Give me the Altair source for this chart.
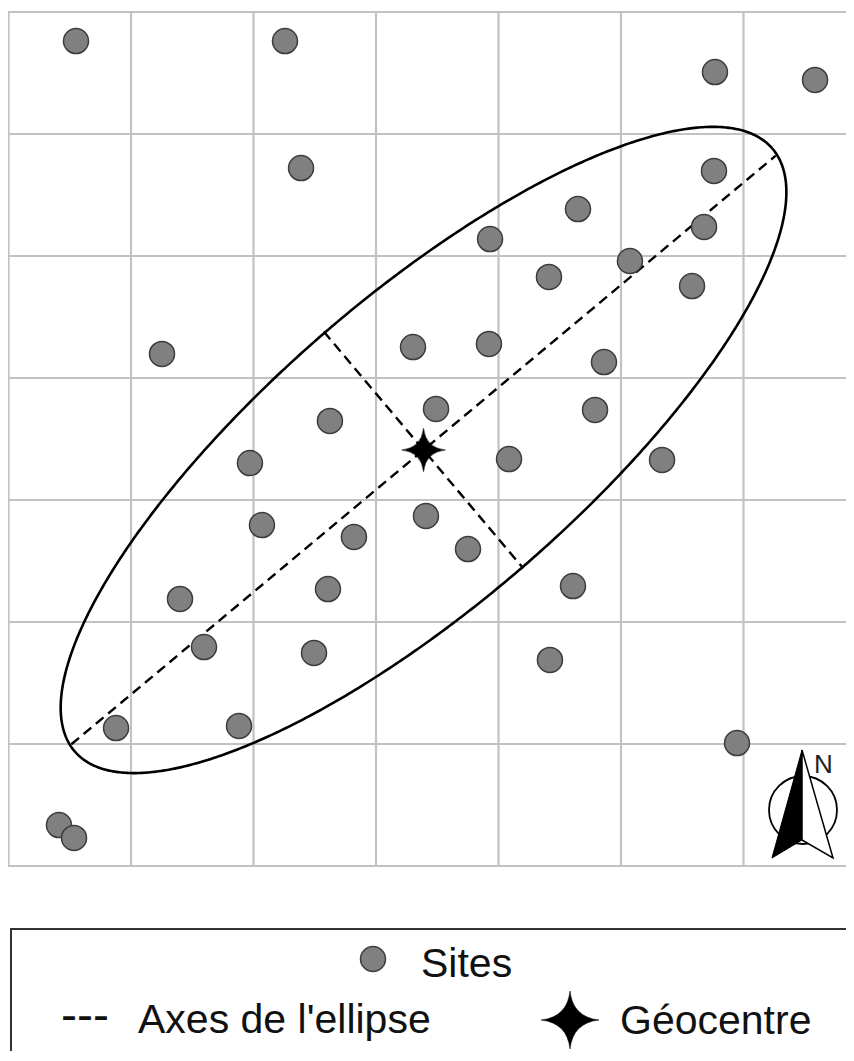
import numpy as np
import pandas as pd
import altair as alt

# ---- data (grid units: one grid cell = 1 unit, origin at the lower-left grid corner)
site_x = [0.551, 2.257, 5.767, 6.584, 2.388, 5.759, 4.649, 3.931, 5.678, 5.073,
          4.412, 5.580, 1.253, 3.302, 3.922, 4.861, 3.490, 4.788, 2.624, 1.971,
          4.086, 5.335, 2.069, 3.408, 2.820, 3.751, 4.608, 2.608, 1.400, 1.596,
          2.494, 4.420, 0.878, 1.882, 5.947, 0.412, 0.535]
site_y = [6.762, 6.762, 6.508, 6.443, 5.721, 5.697, 5.385, 5.139, 5.238, 4.959,
          4.828, 4.754, 4.197, 4.254, 4.279, 4.131, 3.746, 3.738, 3.648, 3.303,
          3.336, 3.328, 2.795, 2.869, 2.697, 2.598, 2.295, 2.270, 2.189, 1.795,
          1.746, 1.689, 1.131, 1.148, 1.008, 0.336, 0.230]

grid_x = [0, 1, 2, 3, 4, 5, 6]
grid_y = [0, 1, 2, 3, 4, 5, 6, 7]
grid_top = 7

# standard deviational ellipse (centre = géocentre)
ell_cx, ell_cy = 3.388, 3.410
ell_a, ell_b = 3.77, 1.255
ell_angle_deg = 41.0
# dashed axes as drawn (half-lengths and orientation)
axis_major, axis_minor = 3.753, 1.267
axis_angle_deg = 40.0

legend_labels = ["Sites", "Axes de l'ellipse", "Géocentre"]

FONT = "Liberation Sans, Arial, Helvetica, sans-serif"
PAD_L = 2
W = 836
H = 1043
X_DOM = [(8 + PAD_L - 8.5) / 122.5, (8 + PAD_L + W - 8.5) / 122.5]
Y_DOM = [(866 - (8 + H)) / 122.0, (866 - 8) / 122.0]
xs = alt.Scale(domain=X_DOM, nice=False, zero=False)
ys = alt.Scale(domain=Y_DOM, nice=False, zero=False)

def X(f):
    return alt.X(f, type="quantitative", scale=xs, axis=None)

def Y(f):
    return alt.Y(f, type="quantitative", scale=ys, axis=None)

GRID_COLOR = "#c2c2c2"

vgrid = alt.Chart(pd.DataFrame({"x": grid_x, "y0": 0, "y1": grid_top})).mark_rule(
    color=GRID_COLOR, strokeWidth=2.2, strokeCap="square"
).encode(x=X("x"), y=Y("y0"), y2="y1")

hgrid = alt.Chart(pd.DataFrame({"y": grid_y, "x0": 0, "x1": X_DOM[1]})).mark_rule(
    color=GRID_COLOR, strokeWidth=2.2, strokeCap="square"
).encode(y=Y("y"), x=X("x0"), x2="x1")

th = np.radians(ell_angle_deg)
t = np.linspace(0, 2 * np.pi, 721)
ex = ell_cx + ell_a * np.cos(t) * np.cos(th) - ell_b * np.sin(t) * np.sin(th)
ey = ell_cy + ell_a * np.cos(t) * np.sin(th) + ell_b * np.sin(t) * np.cos(th)
ell_df = pd.DataFrame({"x": ex, "y": ey, "o": np.arange(len(t))})
ellipse = alt.Chart(ell_df).mark_line(color="black", strokeWidth=2.6).encode(
    x=X("x"), y=Y("y"), order="o:Q"
)

ph = np.radians(axis_angle_deg)
axes_df = pd.DataFrame({
    "x": [ell_cx - axis_major * np.cos(ph), ell_cx - axis_minor * np.sin(ph)],
    "y": [ell_cy - axis_major * np.sin(ph), ell_cy + axis_minor * np.cos(ph)],
    "x2": [ell_cx + axis_major * np.cos(ph), ell_cx + axis_minor * np.sin(ph)],
    "y2": [ell_cy + axis_major * np.sin(ph), ell_cy - axis_minor * np.cos(ph)],
})
axes = alt.Chart(axes_df).mark_rule(color="black", strokeWidth=2.4, strokeDash=[10, 6]).encode(
    x=X("x"), y=Y("y"), x2="x2", y2="y2"
)

sites = alt.Chart(pd.DataFrame({"x": site_x, "y": site_y})).mark_point(
    shape="circle", filled=True, fill="#808080", stroke="#3c3c3c", strokeWidth=1.5,
    size=625, opacity=1
).encode(x=X("x"), y=Y("y"))

STAR = "M0,-1 Q0.1,-0.1 1,0 Q0.1,0.1 0,1 Q-0.1,0.1 -1,0 Q-0.1,-0.1 0,-1 Z"
geo = alt.Chart(pd.DataFrame({"x": [ell_cx], "y": [ell_cy]})).mark_point(
    shape=STAR, filled=True, fill="black", stroke="black", strokeWidth=0.5,
    size=1900, opacity=1
).encode(x=X("x"), y=Y("y"))

one = pd.DataFrame({"k": [0]})

# north arrow (pixel positions inside the plot area)
na_circle = alt.Chart(one).mark_point(
    shape="circle", filled=True, fill="white", stroke="black", strokeWidth=1.8, size=4624, opacity=1
).encode(x=alt.value(793), y=alt.value(802))
na_left = alt.Chart(one).mark_point(
    shape="M0,-1 L-0.556,1 L0,0.667 Z", filled=True, fill="black", stroke="black",
    strokeWidth=1, size=11664, opacity=1
).encode(x=alt.value(792), y=alt.value(796))
na_right = alt.Chart(one).mark_point(
    shape="M0,-1 L0.574,1 L0,0.667 Z", filled=True, fill="white", stroke="black",
    strokeWidth=1.5, size=11664, opacity=1
).encode(x=alt.value(792), y=alt.value(796))
na_text = alt.Chart(one).mark_text(
    text="N", font=FONT, fontSize=26, align="left", baseline="alphabetic", color="#222"
).encode(x=alt.value(804), y=alt.value(765))

# legend
FS = 41
leg_box = alt.Chart(one).mark_rect(
    fillOpacity=0, stroke="#333333", strokeWidth=2
).encode(x=alt.value(1), x2=alt.value(900), y=alt.value(921), y2=alt.value(1100))
leg_site = alt.Chart(one).mark_point(
    shape="circle", filled=True, fill="#808080", stroke="#3c3c3c", strokeWidth=1.5,
    size=625, opacity=1
).encode(x=alt.value(363), y=alt.value(951))
leg_site_t = alt.Chart(one).mark_text(
    text=legend_labels[0], font=FONT, fontSize=FS, align="left", baseline="alphabetic", color="#111"
).encode(x=alt.value(411), y=alt.value(969))
leg_dash_t = alt.Chart(one).mark_text(
    text="---", font=FONT, fontSize=48, align="left", baseline="alphabetic", color="#111"
).encode(x=alt.value(51), y=alt.value(1023))
leg_axes_t = alt.Chart(one).mark_text(
    text=legend_labels[1], font=FONT, fontSize=FS, align="left", baseline="alphabetic", color="#111"
).encode(x=alt.value(128), y=alt.value(1025))
leg_star = alt.Chart(one).mark_point(
    shape=STAR, filled=True, fill="black", stroke="black", strokeWidth=0.5, size=3364, opacity=1
).encode(x=alt.value(560), y=alt.value(1012))
leg_geo_t = alt.Chart(one).mark_text(
    text=legend_labels[2], font=FONT, fontSize=FS, align="left", baseline="alphabetic", color="#111"
).encode(x=alt.value(610), y=alt.value(1026))

chart = alt.layer(
    vgrid, hgrid, ellipse, axes, sites, geo,
    na_circle, na_left, na_right, na_text,
    leg_box, leg_site, leg_site_t, leg_dash_t, leg_axes_t, leg_star, leg_geo_t
).properties(
    width=W, height=H,
    padding={"left": PAD_L, "top": 0, "right": 0, "bottom": 0},
    autosize=alt.AutoSizeParams(type="none"),
    background="white",
).configure_view(strokeWidth=0)

chart.save("out.html", embed_options={"renderer": "svg", "actions": False})
